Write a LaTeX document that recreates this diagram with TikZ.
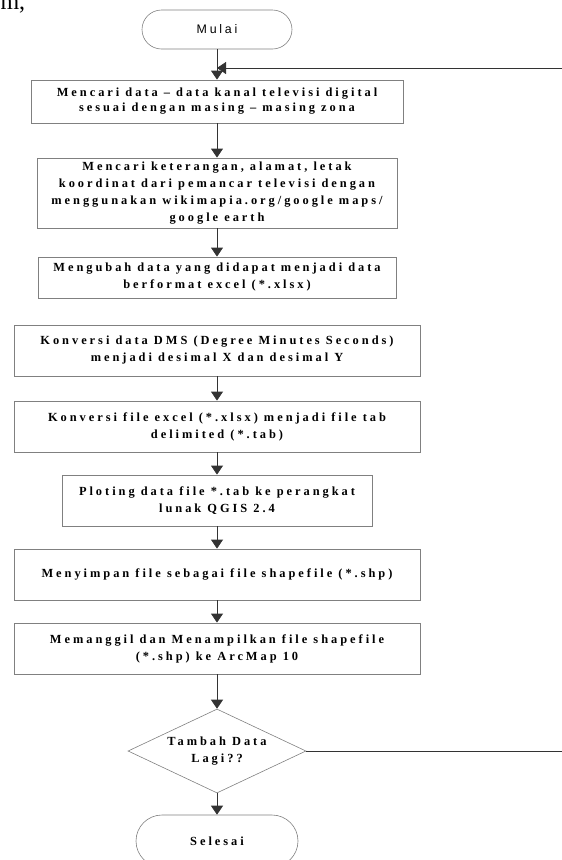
\documentclass[tikz,border=0pt]{standalone}
\usepackage{fontspec}
\setmainfont{Liberation Serif}
\newfontfamily\boxfont[LetterSpace=24]{Liberation Serif}
\newfontfamily\termfont[LetterSpace=22]{Liberation Sans}
\usetikzlibrary{arrows.meta,shapes.geometric,shapes.misc}
\definecolor{edgegray}{HTML}{808080}
\definecolor{linegray}{HTML}{333333}
\tikzset{
  stepbox/.style={draw=edgegray, line width=0.8pt, rectangle, inner sep=0pt, align=center,
    font=\boxfont\bfseries\fontsize{12.4}{17}\selectfont, text=black},
  termbox/.style={draw=edgegray, line width=0.6pt, rounded rectangle, inner sep=0pt, align=center},
  decbox/.style={draw=edgegray, line width=0.6pt, diamond, aspect=2.1, inner sep=0pt, align=center,
    font=\boxfont\bfseries\fontsize{12.4}{17}\selectfont},
  flow/.style={draw=linegray, line width=0.8pt, -{Triangle[width=12pt,length=9pt]}},
  plain/.style={draw=linegray, line width=0.8pt}
}
\begin{document}
\begin{tikzpicture}[x=1pt,y=-1pt]
\useasboundingbox (0,0) rectangle (562,860);

\node[anchor=base west, font=\fontsize{24}{24}\selectfont] (frag) at (-3,9) {m,};

\node[termbox, minimum width=150pt, minimum height=39pt, font=\termfont\fontsize{12.4}{13}\selectfont] (start) at (217,29.5) {Mulai};

\node[stepbox, minimum width=372pt, minimum height=43pt, font=\boxfont\bfseries\fontsize{12.4}{15}\selectfont] (b1) at (217,101.5)
  {Mencari data – data kanal televisi digital\\sesuai dengan masing – masing zona};
\node[stepbox, minimum width=360pt, minimum height=70pt] (b2) at (217,193)
  {Mencari keterangan, alamat, letak\\koordinat dari pemancar televisi dengan\\menggunakan wikimapia.org/google maps/\\google earth};
\node[stepbox, minimum width=358pt, minimum height=41pt] (b3) at (217,277.5)
  {Mengubah data yang didapat menjadi data\\berformat excel (*.xlsx)};
\node[stepbox, minimum width=406pt, minimum height=51pt] (b4) at (217,350.5)
  {Konversi data DMS (Degree Minutes Seconds)\\menjadi desimal X dan desimal Y};
\node[stepbox, minimum width=406pt, minimum height=51pt] (b5) at (217,426.5)
  {Konversi file excel (*.xlsx) menjadi file tab\\delimited (*.tab)};
\node[stepbox, minimum width=310pt, minimum height=51pt] (b6) at (217,500.5)
  {Ploting data file *.tab ke perangkat\\lunak QGIS 2.4};
\node[stepbox, minimum width=406pt, minimum height=51pt] (b7) at (217,574.5)
  {Menyimpan file sebagai file shapefile (*.shp)};
\node[stepbox, minimum width=406pt, minimum height=51pt] (b8) at (217,648.5)
  {Memanggil dan Menampilkan file shapefile\\(*.shp) ke ArcMap 10};

\node[decbox, minimum width=178pt, minimum height=84pt] (dec) at (217,751)
  {Tambah Data\\Lagi??};

\node[termbox, minimum width=162pt, minimum height=52pt, font=\boxfont\bfseries\fontsize{12.4}{13}\selectfont] (stop) at (217,841) {Selesai};

\coordinate (join) at (217,68);
\coordinate (farr) at (566,751);
\coordinate (fartop) at (566,68);

\draw[flow] (start.south) -- (b1.north);
\draw[flow] (b1.south) -- (b2.north);
\draw[flow] (b2.south) -- (b3.north);
\draw[flow] (b4.south) -- (b5.north);
\draw[flow] (b5.south) -- (b6.north);
\draw[flow] (b6.south) -- (b7.north);
\draw[flow] (b7.south) -- (b8.north);
\draw[flow] (b8.south) -- (dec.north);
\draw[flow] (dec.south) -- (stop.north);
\draw[flow] (dec.east) -- (farr) -- (fartop) -- (join);
\end{tikzpicture}
\end{document}
